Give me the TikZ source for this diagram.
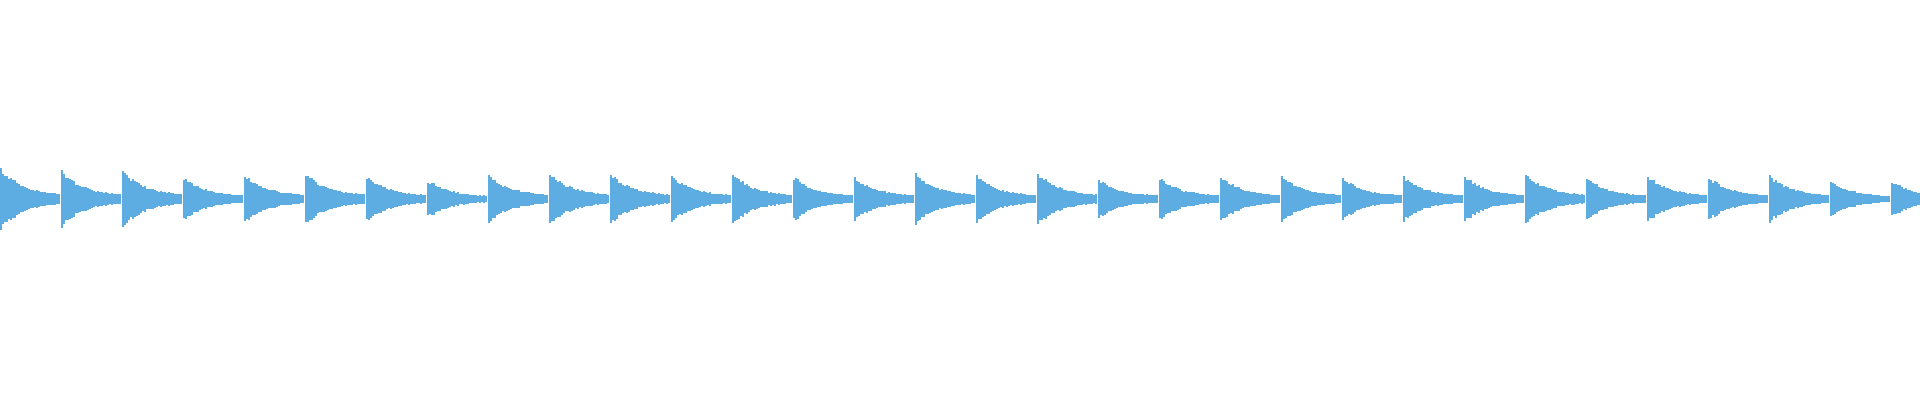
\documentclass[tikz,border=0pt]{standalone}
\definecolor{wave}{HTML}{5DADE2}
\tikzset{
every picture/.style={
line width=0pt
}}
\begin{document}
\begin{tikzpicture}[x=1pt,y=1pt]
  \useasboundingbox (0,0) rectangle (1920,-400);
  \pgfmathsetseed{7}
  % one decaying burst every 61 units
  \foreach \amp [count=\i from 0] in {29,26,27,21,23,25,22,18,23,25,24,22,24,21,21,24,
                                      22,25,19,20,22,22,20,21,22,24,20,22,21,22,17,17} {
    \pgfmathsetmacro{\xo}{\i*61}
    \foreach \k in {0,...,29} {
      \pgfmathsetmacro{\xa}{\xo+2*\k}
      \pgfmathsetmacro{\env}{\amp*(0.12+0.88*exp(-\k/11))*(0.9+0.2*rnd)}
      \fill[wave] (\xa,-199+\env) rectangle (\xa+2.05,-199-\env);
    }
  }
\end{tikzpicture}
\end{document}
